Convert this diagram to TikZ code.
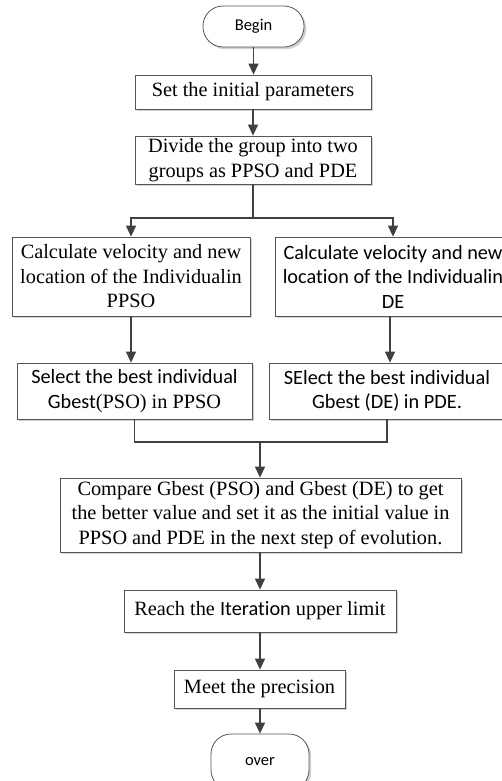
\documentclass[tikz,border=0pt]{standalone}
\usepackage{fontspec}
\setmainfont{Liberation Serif}
\newfontfamily\calfont[Ligatures={NoCommon,NoContextual}]{Carlito}
\usetikzlibrary{arrows.meta,shadows}
\definecolor{linec}{HTML}{404040}
\definecolor{boxc}{HTML}{555555}
\tikzset{
  stepbox/.style={draw=boxc, line width=0.8pt, fill=white, align=center,
    inner sep=0pt, font=\fontsize{20.3}{24.5}\selectfont,
    drop shadow={shadow xshift=2.2pt, shadow yshift=-2.2pt, fill=black!18, opacity=1}},
  termbox/.style={stepbox, rounded corners=20pt, font=\calfont\fontsize{16.5}{20}\selectfont},
  flow/.style={draw=linec, line width=1.3pt},
  arrowline/.style={flow, -{Triangle[length=11pt,width=10pt]}}
}
\begin{document}
\begin{tikzpicture}[x=1pt,y=-1pt]
\useasboundingbox (0,0) rectangle (502,781);
\clip (0,0) rectangle (502,781);
\fill[white] (0,0) rectangle (502,781);

% main column, upper part
\node[termbox, minimum width=101pt, minimum height=41pt] (begin) at (253.5,26.5) {Begin};
\node[stepbox, minimum width=236pt, minimum height=34pt] (set) at (253,92) {Set the initial parameters};
\node[stepbox, minimum width=236pt, minimum height=48pt] (divide) at (253,160)
  {Divide the group into two\\groups as PPSO and PDE};

% two branches
\node[stepbox, minimum width=238pt, minimum height=79pt] (calcL) at (131,276.5)
  {Calculate velocity and new\\location of the Individualin\\PPSO};
\node[stepbox, minimum width=236pt, minimum height=79pt, font=\calfont\fontsize{20.3}{24.5}\selectfont] (calcR) at (393,276.5)
  {Calculate velocity and new\\location of the Individualin\\DE};
\node[stepbox, minimum width=235pt, minimum height=56pt] (selL) at (134.5,391)
  {{\calfont Select the best individual}\\{\calfont Gbest}(PSO) in PPSO};
\node[stepbox, minimum width=236pt, minimum height=56pt, font=\calfont\fontsize{20.3}{24.5}\selectfont] (selR) at (387,391)
  {SElect the best individual\\Gbest (DE) in PDE.};

% main column, lower part
\node[stepbox, minimum width=401pt, minimum height=74pt] (compare) at (260.5,515)
  {Compare Gbest (PSO) and Gbest (DE) to get\\the better value and set it as the initial value in\\PPSO and PDE in the next step of evolution.};
\node[stepbox, minimum width=272pt, minimum height=42pt] (reach) at (260,611)
  {Reach the {\calfont Iteration} upper limit};
\node[stepbox, minimum width=171pt, minimum height=38pt] (meet) at (259.5,689) {Meet the precision};
\node[termbox, minimum width=98pt, minimum height=56pt] (over) at (260,762) {over};

% connectors
\coordinate (split) at (253,218);
\coordinate (merge) at (260,442);
\draw[arrowline] (begin.south) -- (begin.south |- set.north);
\draw[arrowline] (set.south) -- (divide.north);
\draw[flow] (divide.south) -- (split);
\draw[arrowline] (split) -| (calcL.north);
\draw[arrowline] (split) -| (calcR.north);
\draw[arrowline] (calcL.south) -- (calcL.south |- selL.north);
\draw[arrowline] ([xshift=-3pt]calcR.south) -- ([xshift=-3pt]calcR.south |- selR.north);
\draw[flow] (selL.south) |- (merge) -| (selR.south);
\draw[arrowline] (merge) -- (merge |- compare.north);
\draw[arrowline] (merge |- compare.south) -- (merge |- reach.north);
\draw[arrowline] (merge |- reach.south) -- (merge |- meet.north);
\draw[arrowline] (merge |- meet.south) -- (merge |- over.north);
\end{tikzpicture}
\end{document}
